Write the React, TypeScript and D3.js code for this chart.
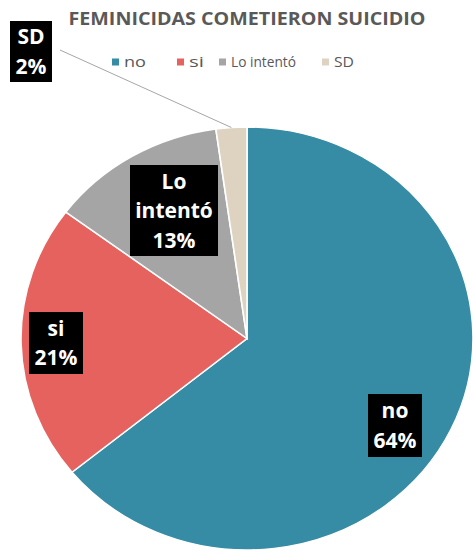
import * as d3 from 'd3';

// data
const categories = ['no', 'si', 'Lo intentó', 'SD'];
const values = [64.1, 21.1, 12.6, 2.2];
const labelLines = [['no', '64%'], ['si', '21%'], ['Lo', 'intentó', '13%'], ['SD', '2%']];
const colors = ['#368CA5', '#E6625E', '#A5A5A5', '#DED2C1'];

const W = 473;
const H = 551;
const cx = 247;
const cy = 338.5;
const ry = 211.5;
const sx = 226 / 211.5; // picture is stretched a bit sideways

// label boxes (center, size), SD sits outside with a leader line
const labelBoxes = [
    { x: 395, y: 425.5, w: 54, h: 63 },
    { x: 56, y: 343, w: 54, h: 62 },
    { x: 174, y: 210.5, w: 88, h: 91 },
    { x: 31, y: 51.5, w: 42, h: 61 },
];

const legendX = [112, 177, 219, 322];
const legendTextW = [22, 15, 65, 20];

export default function App() {
    const pie = d3.pie<number>().sort(null).value(d => d);
    const arcs = pie(values);
    const arc = d3.arc<d3.PieArcDatum<number>>().innerRadius(0).outerRadius(ry);

    const sdArc = arcs[3];
    const sdMid = (sdArc.startAngle + sdArc.endAngle) / 2;
    const leadEnd = [cx + Math.sin(sdMid) * ry * sx, cy - Math.cos(sdMid) * ry];

    return (
        <svg width={W} height={H} style={{ position: 'absolute', left: 0, top: 0, display: 'block', background: '#fff' }}
            fontFamily="'Open Sans', sans-serif">
            <text x={247} y={25} textAnchor="middle" fontSize={18} fontWeight="bold" fill="#595959"
                textLength={357} lengthAdjust="spacingAndGlyphs">FEMINICIDAS COMETIERON SUICIDIO</text>

            {/* legend */}
            {categories.map((c, i) => (
                <g key={c} transform={`translate(${legendX[i]},62)`}>
                    <rect x={0} y={-3.5} width={7} height={7} fill={colors[i]} />
                    <text x={12} y={0} dy="0.35em" fontSize={15} fill="#595959"
                        textLength={legendTextW[i]} lengthAdjust="spacingAndGlyphs">{c}</text>
                </g>
            ))}

            <g transform={`translate(${cx},${cy}) scale(${sx},1)`}>
                {arcs.map((a, i) => (
                    <path key={i} d={arc(a) || ''} fill={colors[i]} stroke="#fff" strokeWidth={1.5} />
                ))}
            </g>

            <line x1={60} y1={50} x2={leadEnd[0]} y2={leadEnd[1]} stroke="#A6A6A6" strokeWidth={1} />

            {labelBoxes.map((b, i) => {
                const lines = labelLines[i];
                const step = 29.5;
                const y0 = b.y - ((lines.length - 1) * step) / 2;
                return (
                    <g key={i}>
                        <rect x={b.x - b.w / 2} y={b.y - b.h / 2} width={b.w} height={b.h} fill="#000" />
                        {lines.map((t, j) => (
                            <text key={j} x={b.x} y={y0 + j * step} dy="0.36em" textAnchor="middle"
                                fontSize={21} fontWeight="bold" fill="#fff">{t}</text>
                        ))}
                    </g>
                );
            })}
        </svg>
    );
}
